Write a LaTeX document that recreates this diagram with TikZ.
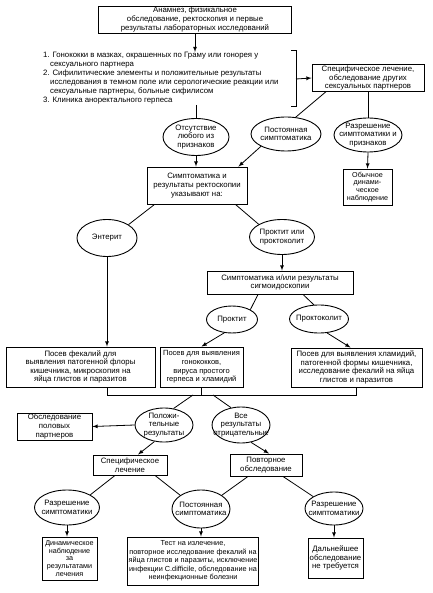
\documentclass[tikz,border=0pt]{standalone}
\usepackage{fontspec}
\setmainfont{Liberation Sans}
\usetikzlibrary{shapes.geometric}

\begin{document}
\begin{tikzpicture}[
  x=1pt,
  y=-1pt,
  >=latex,
  mybox/.style={
    draw,
    line width=0.9pt,
    inner sep=1pt,
    align=center,
    font=\fontsize{7.8}{8.6}\selectfont
  },
  myell/.style={
    ellipse,
    draw,
    line width=0.9pt,
    inner sep=-14pt,
    align=center,
    font=\fontsize{7.8}{8.6}\selectfont
  },
  myline/.style={
    line width=0.8pt
  }
]
\useasboundingbox (0,0) rectangle (432,593);
\node[mybox,minimum width=193pt,minimum height=27pt] (anam) at (195,19.5) {Анамнез, физикальное\\обследование, ректоскопия и первые\\результаты лабораторных исследований};
\node[anchor=north west,inner sep=0pt,align=left,font=\fontsize{7.8}{8.6}\selectfont] (crit) at (43,52) {1. Гонококки в мазках, окрашенных по Граму или гонорея у\\
\hspace*{7pt}сексуального партнера\\[1.2pt]
2. Сифилитические элементы и положительные результаты\\
\hspace*{7pt}исследования в темном поле или серологические реакции или\\
\hspace*{7pt}сексуальные партнеры, больные сифилисом\\[1.2pt]
3. Клиника аноректального герпеса};
\node[mybox,minimum width=112pt,minimum height=26pt] (spec) at (368,78) {Специфическое лечение,\\обследование других\\сексуальных партнеров};
\node[myell,minimum width=66pt,minimum height=37pt] (none) at (196,137) {Отсутствие\\любого из\\признаков};
\node[myell,minimum width=70pt,minimum height=34pt] (persist1) at (286,134) {Постоянная\\симптоматика};
\node[myell,minimum width=68pt,minimum height=34pt] (resol1) at (368,135) {Разрешение\\симптоматики и\\признаков};
\node[mybox,minimum width=100pt,minimum height=37pt] (symp) at (197,185.5) {Симптоматика и\\результаты ректоскопии\\указывают на:};
\node[mybox,minimum width=49pt,minimum height=36pt,font=\fontsize{7.2}{7.9}\selectfont] (usual) at (367.5,187) {Обычное\\динами-\\ческое\\наблюдение};
\node[myell,minimum width=60pt,minimum height=37pt] (enter) at (107,238) {Энтерит};
\node[myell,minimum width=65pt,minimum height=35pt] (proct) at (282,237) {Проктит или\\проктоколит};
\node[mybox,minimum width=146pt,minimum height=23pt] (sigmo) at (280,282.5) {Симптоматика и/или результаты\\сигмоидоскопии};
\node[myell,minimum width=51pt,minimum height=27pt] (pr2) at (232,319.5) {Проктит};
\node[myell,minimum width=59pt,minimum height=28pt] (pc2) at (319,319) {Проктоколит};
\node[mybox,minimum width=149pt,minimum height=40pt] (culL) at (80.5,367) {Посев фекалий для\\выявления патогенной флоры\\кишечника, микроскопия на\\яйца глистов и паразитов};
\node[mybox,minimum width=83pt,minimum height=40pt,font=\fontsize{7.5}{8.6}\selectfont] (culM) at (201.5,367) {Посев для выявления\\гонококков,\\вируса простого\\герпеса и хламидий};
\node[mybox,minimum width=131pt,minimum height=39pt] (culR) at (356.5,367.5) {Посев для выявления хламидий,\\патогенной формы кишечника,\\исследование фекалий на яйца\\глистов и паразитов};
\node[myell,minimum width=58pt,minimum height=34pt] (pos) at (164,425) {Положи-\\тельные\\результаты};
\node[myell,minimum width=58pt,minimum height=36pt] (neg) at (241,425) {Все\\результаты\\отрицательные};
\node[mybox,minimum width=75pt,minimum height=27pt] (partners) at (54.5,426.5) {Обследование\\половых\\партнеров};
\node[mybox,minimum width=74pt,minimum height=20pt] (spec2) at (130,465) {Специфическое\\лечение};
\node[mybox,minimum width=72pt,minimum height=22pt] (rep) at (266,465) {Повторное\\обследование};
\node[myell,minimum width=65pt,minimum height=35pt] (res2) at (67,507.5) {Разрешение\\симптоматики};
\node[myell,minimum width=58pt,minimum height=38pt] (persist2) at (201,509) {Постоянная\\симптоматика};
\node[myell,minimum width=58pt,minimum height=33pt] (res3) at (334,508.5) {Разрешение\\симптоматики};
\node[mybox,minimum width=55pt,minimum height=43pt,font=\fontsize{7.2}{7.9}\selectfont] (dyn) at (69.5,558.5) {Динамическое\\наблюдение\\за\\результатами\\лечения};
\node[mybox,minimum width=130pt,minimum height=48pt,font=\fontsize{7.3}{8.6}\selectfont] (test) at (193,561) {Тест на излечение,\\повторное исследование фекалий на\\яйца глистов и паразиты, исключение\\инфекции C.difficile, обследование на\\неинфекционные болезни};
\node[mybox,minimum width=55pt,minimum height=40pt] (nomore) at (335.5,558) {Дальнейшее\\обследование\\не требуется};
\coordinate (brk) at (296,79);
\coordinate (bar) at (0,395);
\coordinate (jl) at (193,395);
\coordinate (jr) at (213,395);
\draw[myline,->] (anam.south) -- (anam.south |- crit.north);
\draw[myline] (291,50) -- (296,50) -- (296,106) -- (291,106);
\draw[myline,->] (brk) -- (spec.west);
\draw[myline] (crit.south -| none.north) -- (none.north);
\draw[myline] ([xshift=-42pt]spec.south) -- (persist1.60);
\draw[myline] (spec.south) -- (resol1.north);
\draw[myline,->] (none.south) -- (none.south |- symp.north);
\draw[myline,->] (persist1.south west) -- ([xshift=-9pt]symp.north east);
\draw[myline,->] (resol1.south) -- (usual.north);
\draw[myline] ([xshift=8pt]symp.south west) -- (enter.north east);
\draw[myline] ([xshift=-12pt]symp.south east) -- (proct.north west);
\draw[myline,->] (enter.south) -- (enter.south |- culL.north);
\draw[myline,->] (proct.south) -- (proct.south |- sigmo.north);
\draw[myline] ([xshift=-22pt]sigmo.south) -- (pr2.north east);
\draw[myline] ([xshift=23pt]sigmo.south) -- (pc2.110);
\draw[myline,->] (pr2.240) -- (culM.north);
\draw[myline,->] (pc2.300) -- ([xshift=-6pt]culR.north);
\draw[myline] (culL.south -| enter.south) |- (culR.south |- bar) -- (culR.south);
\draw[myline] (culM.south) -- (culM.south |- bar);
\draw[myline] (jl) -- (pos.60);
\draw[myline] (jr) -- (neg.120);
\draw[myline,->] (pos.west) -- (partners.east);
\draw[myline,->] (pos.240) -- ([xshift=8pt]spec2.north);
\draw[myline,->] (neg.300) -- ([xshift=3pt]rep.north);
\draw[myline] ([xshift=-15pt]spec2.south) -- (res2.north east);
\draw[myline] ([xshift=25pt]spec2.south) -- (persist2.north west);
\draw[myline] ([xshift=-18pt]rep.south) -- (persist2.north east);
\draw[myline] ([xshift=17pt]rep.south) -- (res3.north west);
\draw[myline,->] (res2.south) -- (res2.south |- dyn.north);
\draw[myline,->] (persist2.south) -- (persist2.south |- test.north);
\draw[myline,->] (res3.south) -- (res3.south |- nomore.north);
\end{tikzpicture}
\end{document}
